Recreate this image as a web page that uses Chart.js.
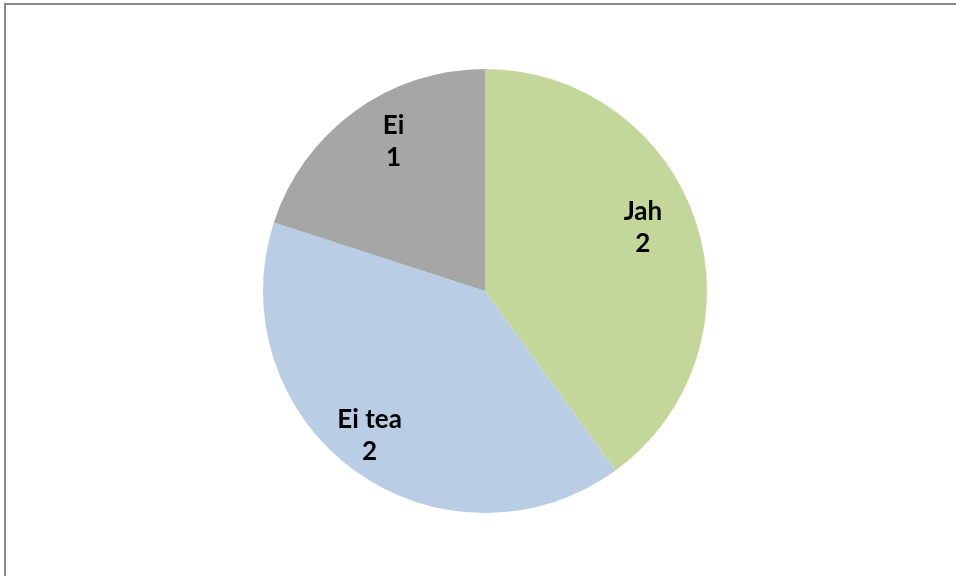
<!DOCTYPE html>
<html>
<head>
<meta charset="utf-8">
<script src="https://cdn.jsdelivr.net/npm/chart.js@4"></script>
<style>
    html, body { margin: 0; padding: 0; background: #fff; overflow: hidden; }
    #wrap { position: relative; width: 956px; height: 576px; }
    #frame { position: absolute; left: 4px; top: 3px; width: 2000px; height: 2000px; border: 2px solid #898989; box-sizing: border-box; }
    canvas { position: absolute; left: 0; top: 0; }
</style>
</head>
<body>
<div id="wrap">
    <div id="frame"></div>
    <canvas id="pieChart" width="956" height="576"></canvas>
</div>
<script>
const labels = ['Jah', 'Ei tea', 'Ei'];
const values = [2, 2, 1];
const colors = ['#c4d79b', '#b9cde5', '#a6a6a6'];

// small pixel nudges so the labels sit where Excel put them
const labelNudge = [[-11, -9], [-11, 0], [13, -6]];

// draws "name" and "value" on two lines inside each slice
const sliceLabelsPlugin = {
    id: 'sliceLabels',
    afterDatasetsDraw(chart) {
        const { ctx } = chart;
        const meta = chart.getDatasetMeta(0);
        meta.data.forEach((arc, i) => {
            const mid = (arc.startAngle + arc.endAngle) / 2;
            const r = arc.outerRadius * 0.8;
            const x = arc.x + Math.cos(mid) * r + labelNudge[i][0];
            const y = arc.y + Math.sin(mid) * r + labelNudge[i][1];
            ctx.save();
            ctx.fillStyle = '#000';
            ctx.font = 'bold 26px Lato, "Open Sans", sans-serif';
            ctx.textAlign = 'center';
            ctx.textBaseline = 'alphabetic';
            ctx.fillText(labels[i], x, y - 7);
            ctx.fillText(String(values[i]), x, y + 25);
            ctx.restore();
        });
    }
};

new Chart(document.getElementById('pieChart'), {
    type: 'pie',
    data: {
        labels,
        datasets: [{
            data: values,
            backgroundColor: colors,
            borderWidth: 0,
            hoverOffset: 0
        }]
    },
    options: {
        responsive: false,
        animation: false,
        layout: { padding: { left: 263, right: 249, top: 69, bottom: 63 } },
        plugins: {
            legend: { display: false },
            tooltip: { enabled: false }
        }
    },
    plugins: [sliceLabelsPlugin]
});
</script>
</body>
</html>
